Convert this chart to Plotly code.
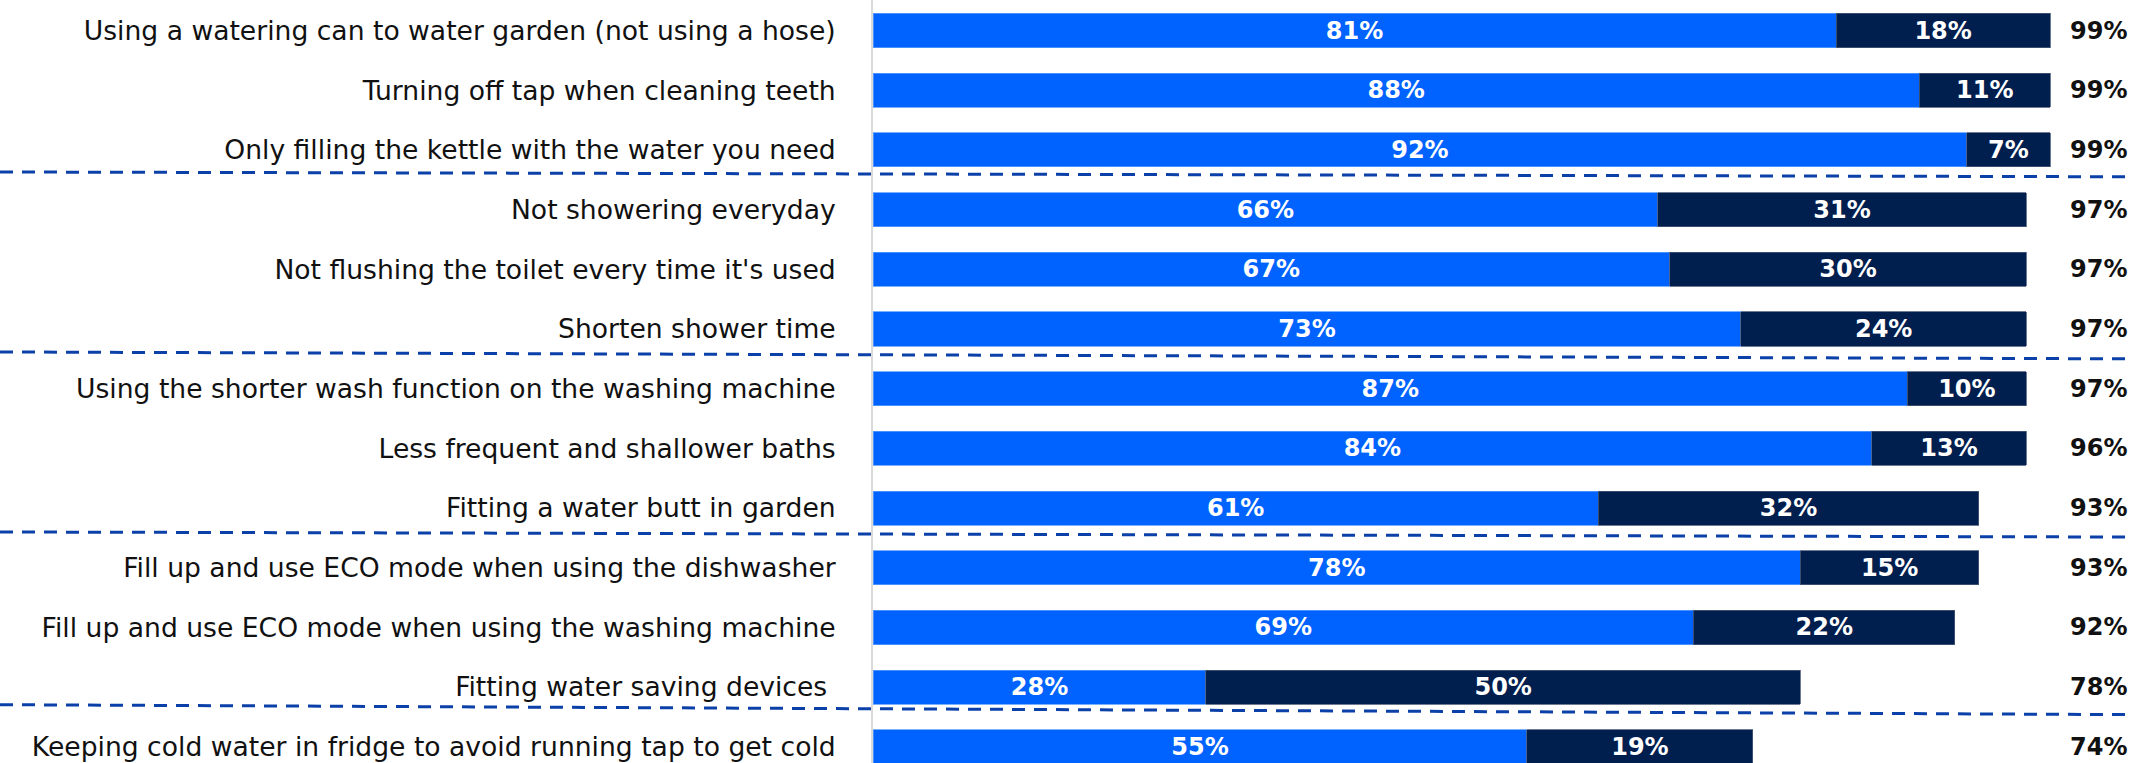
import plotly.graph_objects as go

# Water-saving behaviours: share already doing (first) and would consider (second)
categories = [
    "Using a watering can to water garden (not using a hose)",
    "Turning off tap when cleaning teeth",
    "Only filling the kettle with the water you need",
    "Not showering everyday",
    "Not flushing the toilet every time it's used",
    "Shorten shower time",
    "Using the shorter wash function on the washing machine",
    "Less frequent and shallower baths",
    "Fitting a water butt in garden",
    "Fill up and use ECO mode when using the dishwasher",
    "Fill up and use ECO mode when using the washing machine",
    "Fitting water saving devices ",
    "Keeping cold water in fridge to avoid running tap to get cold",
]
already_doing = [81, 88, 92, 66, 67, 73, 87, 84, 61, 78, 69, 28, 55]
would_consider = [18, 11, 7, 31, 30, 24, 10, 13, 32, 15, 22, 50, 19]
totals = [99, 99, 99, 97, 97, 97, 97, 96, 93, 93, 92, 78, 74]

# group separators: (y at left edge, y at right edge) in category units
separators = [(2.37, 2.45), (5.385, 5.50), (8.40, 8.485), (11.293, 11.46)]

BLUE = "#0062FF"
NAVY = "#001E4E"
FONT = "DejaVu Sans"

W, H = 2132, 763
LEFT, RIGHT = 873, 70
plot_w = W - LEFT - RIGHT

fig = go.Figure()
fig.add_trace(go.Bar(
    y=categories, x=already_doing, orientation="h", width=0.57,
    marker=dict(color=BLUE, line=dict(width=0.8, color="#5a9cff")),
    text=[f"{v}%" for v in already_doing], textposition="inside",
    insidetextanchor="middle", textangle=0,
    insidetextfont=dict(color="white", size=24, family=FONT, weight="bold"),
))
fig.add_trace(go.Bar(
    y=categories, x=would_consider, orientation="h", width=0.57,
    marker=dict(color=NAVY, line=dict(width=0.8, color="#4a5a78")),
    text=[f"{v}%" for v in would_consider], textposition="inside",
    insidetextanchor="middle", textangle=0,
    insidetextfont=dict(color="white", size=24, family=FONT, weight="bold"),
))

for cat, t in zip(categories, totals):
    fig.add_annotation(
        x=100, y=cat, xref="x", yref="y", text=f"{t}%", showarrow=False,
        xanchor="left", xshift=6,
        font=dict(color="#111111", size=24, family=FONT, weight="bold"),
    )

for y_left, y_right in separators:
    fig.add_shape(
        type="line", xref="paper", yref="y",
        x0=-LEFT / plot_w, x1=(W - LEFT) / plot_w, y0=y_left, y1=y_right,
        line=dict(color="#0B40A8", width=3, dash="13px,9px"),
    )

fig.update_layout(
    barmode="stack", width=W, height=H, showlegend=False,
    margin=dict(l=LEFT, r=RIGHT, t=0, b=0, pad=0),
    paper_bgcolor="white", plot_bgcolor="white",
    uniformtext=dict(minsize=24, mode="show"),
    font=dict(family=FONT, color="#111111"),
)
fig.update_xaxes(range=[0, 100], visible=False, showgrid=False, zeroline=False)
fig.update_yaxes(
    type="category", range=[12.27, -0.511], showgrid=False, zeroline=False,
    showline=True, linecolor="#d9d9d9", linewidth=2, ticks="",
    ticklabelstandoff=30, tickfont=dict(size=26.6, family=FONT, color="#111111"),
)

fig.write_html("out.html")
